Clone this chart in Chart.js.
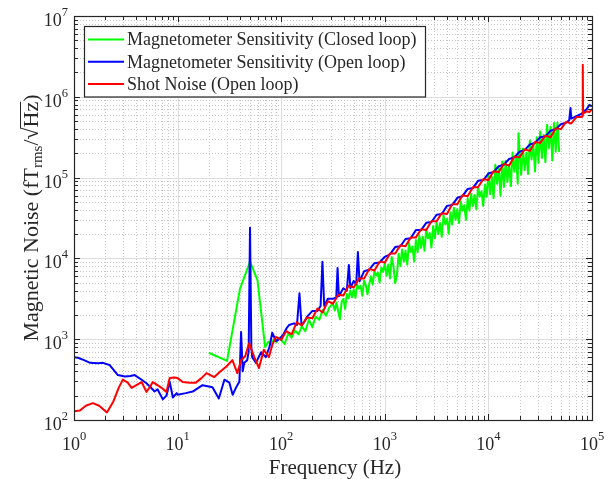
<!DOCTYPE html>
<html lang="en">
<head>
<meta charset="UTF-8">
<title>Magnetic Noise</title>
<script src="https://cdn.jsdelivr.net/npm/chart.js@4.4.1/dist/chart.umd.min.js"></script>
<style>
  body { margin: 0; background: #fff; }
  #chart { display: block; }
</style>
</head>
<body>
<canvas id="chart" width="610" height="479"></canvas>
<script>
// ---- data ----
var freqClosed = [20, 30, 40, 50, 59, 70, 75, 80, 85, 90,
    95, 100, 108, 117, 126, 136, 147, 158, 171, 185,
    200, 215, 233, 251, 271, 293,
    316, 329, 341, 355, 369, 383, 398, 414, 430, 447,
    464, 482, 501, 521, 541, 562, 584, 607, 631, 656,
    681, 708, 736, 764, 794, 825, 858, 891, 926, 962,
    1000, 1039, 1080, 1122, 1166, 1212, 1259, 1309, 1359, 1413,
    1468, 1525, 1585, 1647, 1711, 1778, 1848, 1920, 1995, 2073,
    2154, 2239, 2326, 2417, 2512, 2610, 2712, 2818, 2929, 3043,
    3162, 3286, 3415, 3548, 3687, 3831, 3981, 4137, 4299, 4467,
    4642, 4823, 5012, 5208, 5412, 5623, 5843, 6072, 6310, 6556,
    6813, 7079, 7356, 7644, 7943, 8254, 8577, 8913, 9261, 9624,
    10000, 10390, 10800, 11220, 11660, 12120, 12590, 13090, 13590, 14130,
    14680, 15250, 15850, 16470, 17110, 17780, 18480, 19200, 19500, 19950,
    20730, 21540, 22390, 23260, 24170, 25120, 26100, 27120, 28180, 29290,
    30430, 31620, 32860, 34150, 35480, 36870, 38310, 39810, 41370, 42990,
    44670, 46420, 48230];
var closedLoop = [680, 540, 4200, 9100, 5400, 800, 930, 870, 1000, 920,
    1050, 980, 871, 1175, 1047, 1288, 1148, 1445, 1259, 1738,
    1413, 1905, 1738, 2291, 1950, 2512,
    2750, 2270, 2840, 2230, 1760, 2900, 3150, 2370, 3630, 3210,
    4010, 3300, 4130, 3250, 4760, 4220, 4580, 3440, 5300, 4680,
    3600, 4820, 6010, 4730, 6950, 6140, 6670, 5020, 7710, 6810,
    8710, 6120, 8400, 5650, 10400, 8050, 4930, 6170, 11400, 8040,
    12900, 9100, 12500, 8380, 15500, 12000, 14000, 9160, 16900, 11900,
    19200, 13500, 18500, 12400, 23000, 17700, 20700, 13600, 25200, 17700,
    28500, 20000, 27500, 18500, 34200, 26400, 30800, 20200, 37300, 26300,
    42400, 29800, 40800, 27400, 50700, 39200, 45700, 30000, 55500, 39000,
    62800, 44300, 60700, 40700, 75300, 58100, 67900, 44600, 82400, 57900,
    114800, 62400, 102300, 55600, 144500, 84100, 131800, 59600, 158500, 76700,
    162200, 88100, 144500, 78500, 204200, 118900, 186200, 84100, 354800, 223900,
    108400, 229100, 124500, 204200, 110900, 288400, 167900, 263000, 118900, 316200,
    153100, 371500, 175000, 336500, 154900, 449800, 232800, 426600, 163300, 475300,
    208900, 481900, 207500];

var freqOpen = [1, 1.09, 1.25, 1.43, 1.7, 1.9, 2.2, 2.65, 3.1, 3.5,
    3.85, 4.5, 5.0, 5.4, 6.0, 6.4, 7.2, 7.8, 8.4, 9.0,
    9.8, 10, 12, 14, 17.4, 21.7, 25, 28.3, 31.6, 34,
    36.8, 39.5, 41, 42.5, 44, 47, 48.5, 50, 51.5, 52.5,
    57, 64, 71, 77, 82, 89, 96, 105, 112, 119,
    133, 142, 150, 157, 165, 178, 200, 224, 240, 250,
    260, 282, 316, 340, 350, 360, 398, 430, 450, 465,
    501, 530, 550, 570, 631, 708, 794, 891, 1000, 1122,
    1259, 1413, 1585, 1778, 1995, 2239, 2512, 2818, 3162, 3548,
    3981, 4467, 5012, 5623, 6310, 7079, 7943, 8913, 10000, 11220,
    12589, 14125, 15849, 17783, 19953, 22387, 25119, 28184, 31623, 35481,
    39811, 44668, 50119, 56234, 60260, 62000, 63096, 70795, 79433, 89125,
    94400, 100000];
var openLoop = [600, 590, 550, 510, 505, 510, 480, 360, 345, 350,
    360, 315, 285, 260, 225, 240, 180, 200, 295, 190,
    215, 205, 215, 225, 270, 255, 185, 315, 290, 205,
    255, 300, 1230, 400, 510, 550, 700, 24000, 800, 600,
    510, 690, 600, 800, 1200, 950, 1000, 1150, 1350, 1500,
    1570, 1500, 3700, 1500, 1600, 1900, 2240, 2240, 2570, 9100,
    2600, 3160, 3160, 3300, 7600, 3400, 4270, 4000, 8300, 4300,
    5250, 4800, 12000, 5200, 6920, 7240, 8710, 8910, 10470, 11220,
    13800, 14130, 17380, 17780, 22390, 22390, 27540, 28180, 34670, 35480,
    44670, 45710, 56230, 58880, 72440, 74130, 91200, 93330, 112200, 117500,
    138000, 144500, 169800, 177800, 208900, 218800, 257000, 269200, 316200, 323600,
    380200, 398100, 457100, 478600, 512900, 724400, 537000, 575400, 616600, 707900,
    794300, 758600];

var freqShot = [1, 1.14, 1.3, 1.52, 1.75, 2.08, 2.4, 2.7, 2.96, 3.3,
    3.6, 4.0, 4.5, 5.0, 5.4, 5.75, 6.4, 7.0, 7.8, 8.4,
    9.3, 10, 11.2, 13, 15, 17, 19, 22.6, 26, 29.6,
    33.8, 37.7, 41, 45, 49, 55, 61, 68, 76, 82,
    89, 100, 112, 126, 141, 158, 178, 200, 224, 251,
    282, 316, 355, 398, 447, 501, 562, 631, 708, 794,
    891, 1000, 1122, 1259, 1413, 1585, 1778, 1995, 2239, 2512,
    2818, 3162, 3548, 3981, 4467, 5012, 5623, 6310, 7079, 7943,
    8913, 10000, 11220, 12589, 14125, 15849, 17783, 19953, 22387, 25119,
    28184, 31623, 35481, 39811, 44668, 50119, 56234, 63096, 70795, 79433,
    81000, 81500, 82000, 89125, 94400, 100000];
var shotNoise = [128, 131, 150, 162, 150, 124, 170, 250, 316, 290,
    250, 270, 295, 223, 255, 295, 270, 250, 223, 330,
    335, 330, 295, 290, 290, 330, 380, 340, 400, 460,
    550, 380, 550, 620, 890, 600, 440, 740, 600, 850,
    1070, 980, 1260, 1150, 1620, 1480, 1860, 1820, 2400, 2140,
    2950, 2750, 3550, 3470, 4570, 4370, 5620, 5620, 7410, 7080,
    9120, 8910, 11500, 11500, 14500, 14100, 18200, 18200, 22900, 22400,
    28800, 28800, 36300, 35500, 46800, 46800, 60300, 58900, 75900, 75900,
    95500, 93300, 120000, 117000, 148000, 141000, 182000, 178000, 224000, 214000,
    275000, 269000, 331000, 316000, 407000, 398000, 490000, 468000, 562000, 562000,
    580000, 2500000, 620000, 661000, 646000, 708000];

var xDecades = [1, 10, 100, 1000, 10000, 100000];
var xExponents = ['0', '1', '2', '3', '4', '5'];
var yDecades = [1e2, 1e3, 1e4, 1e5, 1e6, 1e7];
var yExponents = ['2', '3', '4', '5', '6', '7'];

var seriesLabels = ['Magnetometer Sensitivity (Closed loop)',
    'Magnetometer Sensitivity (Open loop)',
    'Shot Noise (Open loop)'];
var seriesColors = ['#00ff00', '#0000ff', '#ff0000'];

var serif = '"Liberation Serif", "DejaVu Serif", serif';
var ink = '#262626';

function points(fs, vs) {
    var out = [];
    for (var i = 0; i < Math.min(fs.length, vs.length); i++) out.push({ x: fs[i], y: vs[i] });
    return out;
}

function minors(decades) {
    var out = [];
    for (var i = 0; i < decades.length - 1; i++)
        for (var k = 2; k < 10; k++) out.push(decades[i] * k);
    return out;
}

function seg(ctx, x1, y1, x2, y2) {
    ctx.beginPath();
    ctx.moveTo(x1, y1);
    ctx.lineTo(x2, y2);
    ctx.stroke();
}

// "10" with a raised exponent
function powWidth(ctx, e) {
    ctx.font = '18px ' + serif;
    var w = ctx.measureText('10').width;
    ctx.font = '12.5px ' + serif;
    return w + ctx.measureText(e).width;
}
function drawPow(ctx, e, left, base) {
    ctx.font = '18px ' + serif;
    ctx.fillText('10', left, base);
    var w = ctx.measureText('10').width;
    ctx.font = '12.5px ' + serif;
    ctx.fillText(e, left + w, base - 10);
}

var axesPlugin = {
    id: 'matlabAxes',
    beforeDatasetsDraw: function(chart) {
        var ctx = chart.ctx, a = chart.chartArea, x = chart.scales.x, y = chart.scales.y;
        ctx.save();
        ctx.lineWidth = 1;
        // minor grid, dotted
        ctx.strokeStyle = '#c6c6c6';
        ctx.setLineDash([1, 2]);
        minors(xDecades).forEach(function(v) {
            var p = Math.round(x.getPixelForValue(v)) + 0.5;
            seg(ctx, p, a.top, p, a.bottom);
        });
        minors(yDecades).forEach(function(v) {
            var p = Math.round(y.getPixelForValue(v)) + 0.5;
            seg(ctx, a.left, p, a.right, p);
        });
        // major grid
        ctx.setLineDash([]);
        ctx.strokeStyle = '#dddddd';
        xDecades.forEach(function(v) {
            var p = Math.round(x.getPixelForValue(v)) + 0.5;
            seg(ctx, p, a.top, p, a.bottom);
        });
        yDecades.forEach(function(v) {
            var p = Math.round(y.getPixelForValue(v)) + 0.5;
            seg(ctx, a.left, p, a.right, p);
        });
        ctx.restore();
    },
    afterDatasetsDraw: function(chart) {
        var ctx = chart.ctx, a = chart.chartArea, x = chart.scales.x, y = chart.scales.y;
        ctx.save();
        ctx.strokeStyle = ink;
        ctx.fillStyle = ink;
        ctx.lineWidth = 1;

        // tick marks inside, on all four sides
        function xTick(v, len) {
            var p = Math.round(x.getPixelForValue(v)) + 0.5;
            seg(ctx, p, a.bottom, p, a.bottom - len);
            seg(ctx, p, a.top, p, a.top + len);
        }
        function yTick(v, len) {
            var p = Math.round(y.getPixelForValue(v)) + 0.5;
            seg(ctx, a.left, p, a.left + len, p);
            seg(ctx, a.right, p, a.right - len, p);
        }
        minors(xDecades).forEach(function(v) { xTick(v, 4); });
        minors(yDecades).forEach(function(v) { yTick(v, 4); });
        xDecades.forEach(function(v) { xTick(v, 6); });
        yDecades.forEach(function(v) { yTick(v, 6); });

        // box
        ctx.lineWidth = 1.2;
        ctx.strokeRect(Math.round(a.left) + 0.5, Math.round(a.top) + 0.5,
            Math.round(a.right - a.left), Math.round(a.bottom - a.top));

        // tick labels
        ctx.textAlign = 'left';
        ctx.textBaseline = 'alphabetic';
        xDecades.forEach(function(v, i) {
            var w = powWidth(ctx, xExponents[i]);
            drawPow(ctx, xExponents[i], x.getPixelForValue(v) - w / 2, a.bottom + 30);
        });
        yDecades.forEach(function(v, i) {
            var w = powWidth(ctx, yExponents[i]);
            drawPow(ctx, yExponents[i], a.left - 6 - w, y.getPixelForValue(v) + 10);
        });

        // x title
        ctx.font = '21px ' + serif;
        ctx.textAlign = 'center';
        ctx.fillText('Frequency (Hz)', (a.left + a.right) / 2 + 2, 474);

        // y title, rotated
        ctx.save();
        ctx.translate(38, (a.top + a.bottom) / 2);
        ctx.rotate(-Math.PI / 2);
        ctx.textAlign = 'left';
        var big = '22px ' + serif, small = '15px ' + serif;
        var parts = [['Magnetic Noise (fT', big, 0], ['rms', small, 4], ['/', big, 0], ['\u221A', big, 0], ['Hz', big, 0], [')', big, 0]];
        var total = 0;
        parts.forEach(function(p) { ctx.font = p[1]; p.push(ctx.measureText(p[0]).width); total += p[3]; });
        var cx = -total / 2, hzStart = 0, hzEnd = 0;
        parts.forEach(function(p) {
            ctx.font = p[1];
            ctx.fillText(p[0], cx, p[2]);
            if (p[0] === 'Hz') { hzStart = cx; hzEnd = cx + p[3]; }
            cx += p[3];
        });
        ctx.lineWidth = 1;
        seg(ctx, hzStart - 1, -17.5, hzEnd, -17.5);
        ctx.restore();

        // legend
        var lx = 84, ly = 26.5, lw = 341, lh = 70.5;
        ctx.fillStyle = '#ffffff';
        ctx.fillRect(lx, ly, lw, lh);
        ctx.strokeStyle = ink;
        ctx.lineWidth = 1.2;
        ctx.strokeRect(lx + 0.5, ly, lw, lh);
        ctx.font = '18px ' + serif;
        ctx.textAlign = 'left';
        ctx.textBaseline = 'middle';
        seriesLabels.forEach(function(t, i) {
            var ry = 39.5 + i * 22.3;
            ctx.strokeStyle = seriesColors[i];
            ctx.lineWidth = 2;
            seg(ctx, 88, ry, 124, ry);
            ctx.fillStyle = ink;
            ctx.fillText(t, 127, ry + 1);
        });
        ctx.restore();
    }
};

var chart = new Chart(document.getElementById('chart').getContext('2d'), {
    type: 'line',
    data: {
        datasets: [{
                label: seriesLabels[0],
                data: points(freqClosed, closedLoop),
                borderColor: seriesColors[0],
                order: 3
            },
            {
                label: seriesLabels[1],
                data: points(freqOpen, openLoop),
                borderColor: seriesColors[1],
                order: 2
            },
            {
                label: seriesLabels[2],
                data: points(freqShot, shotNoise),
                borderColor: seriesColors[2],
                order: 1
            }
        ]
    },
    options: {
        responsive: false,
        animation: false,
        devicePixelRatio: 1,
        layout: { padding: { left: 74, right: 18, top: 16, bottom: 59 } },
        elements: {
            point: { radius: 0 },
            line: { tension: 0, borderWidth: 2, borderJoinStyle: 'round', fill: false }
        },
        plugins: { legend: { display: false }, tooltip: { enabled: false } },
        scales: {
            x: {
                type: 'logarithmic', min: 1, max: 100000,
                grid: { display: false }, border: { display: false }, ticks: { display: false },
                afterFit: function(s) { s.height = 0; }
            },
            y: {
                type: 'logarithmic', min: 100, max: 10000000,
                grid: { display: false }, border: { display: false }, ticks: { display: false },
                afterFit: function(s) { s.width = 0; }
            }
        }
    },
    plugins: [axesPlugin]
});
</script>
</body>
</html>
